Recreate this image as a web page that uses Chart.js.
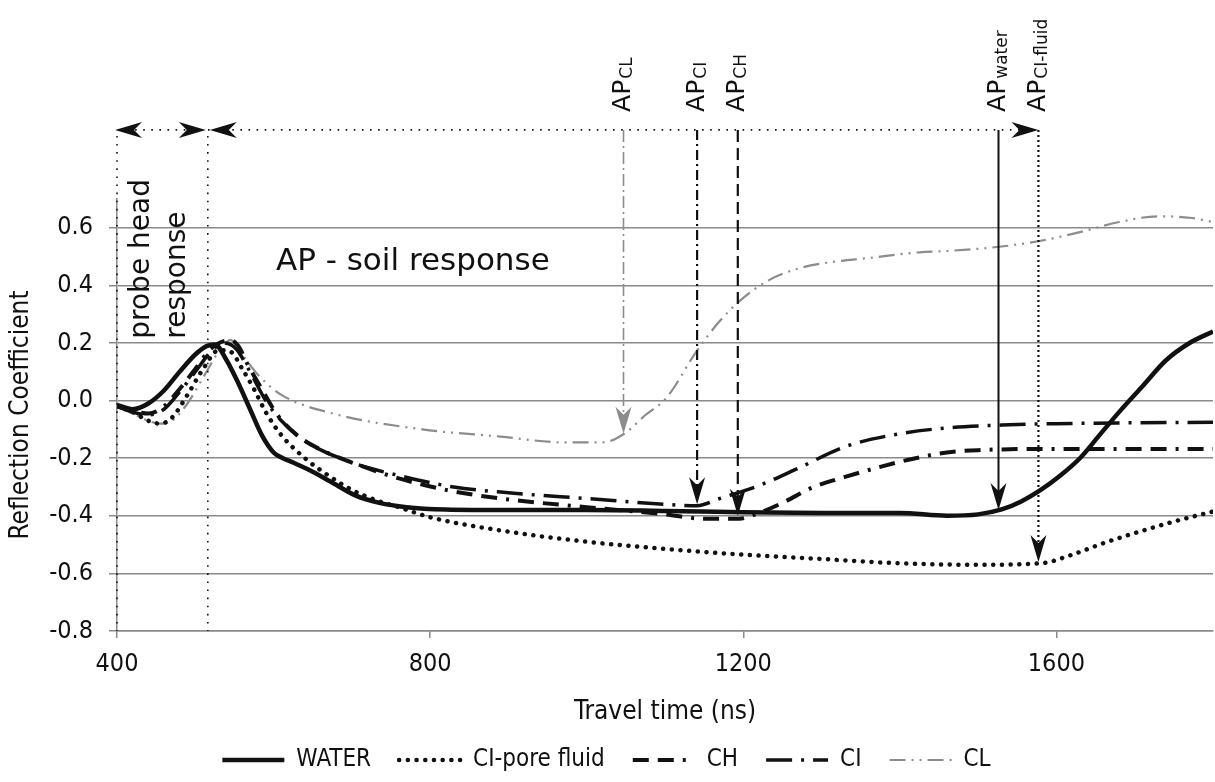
<!DOCTYPE html>
<html>
<head>
<meta charset="utf-8">
<script src="https://cdn.jsdelivr.net/npm/chart.js@4.4.0/dist/chart.umd.min.js"></script>
<style>
  html, body { margin: 0; padding: 0; background: #fff; }
  canvas { display: block; }
</style>
</head>
<body>
<canvas id="myChart" width="1215" height="782"></canvas>
<script>
// tick labels
const xTicks = [400, 800, 1200, 1600];
const yTicks = [-0.8, -0.6, -0.4, -0.2, 0, 0.2, 0.4, 0.6];

// WATER
const waterT = [400, 420, 440, 460, 480, 500, 515, 525, 540, 555, 570, 585, 600, 612, 625, 645, 672, 705, 735, 770, 820, 900, 1000, 1100, 1200, 1300, 1400, 1460, 1500, 1530, 1555, 1580, 1605, 1630, 1655, 1680, 1710, 1740, 1770, 1800];
const waterR = [-0.015, -0.03, -0.01, 0.035, 0.1, 0.16, 0.19, 0.195, 0.14, 0.06, -0.03, -0.12, -0.18, -0.2, -0.215, -0.24, -0.28, -0.33, -0.355, -0.37, -0.378, -0.38, -0.38, -0.383, -0.388, -0.39, -0.39, -0.4, -0.395, -0.378, -0.35, -0.31, -0.26, -0.2, -0.12, -0.04, 0.05, 0.14, 0.2, 0.24];

// CI-pore fluid
const fluidT = [400, 420, 440, 455, 470, 490, 510, 530, 545, 560, 575, 590, 610, 640, 670, 700, 730, 760, 800, 900, 1000, 1100, 1200, 1300, 1400, 1500, 1580, 1620, 1660, 1700, 1750, 1800];
const fluidR = [-0.02, -0.04, -0.07, -0.08, -0.06, 0.02, 0.11, 0.175, 0.17, 0.11, 0.04, -0.04, -0.12, -0.2, -0.26, -0.31, -0.345, -0.37, -0.405, -0.455, -0.49, -0.515, -0.535, -0.55, -0.565, -0.57, -0.565, -0.535, -0.495, -0.46, -0.42, -0.385];

// CH
const chT = [400, 420, 440, 460, 480, 500, 520, 544, 555, 566, 585, 605, 630, 660, 700, 760, 820, 890, 1000, 1100, 1150, 1195, 1220, 1250, 1290, 1330, 1375, 1420, 1460, 1500, 1600, 1700, 1800];
const chR = [-0.02, -0.035, -0.045, -0.02, 0.04, 0.11, 0.18, 0.21, 0.19, 0.13, 0.04, -0.05, -0.12, -0.17, -0.215, -0.27, -0.31, -0.34, -0.37, -0.395, -0.41, -0.41, -0.39, -0.355, -0.3, -0.265, -0.23, -0.2, -0.18, -0.172, -0.168, -0.168, -0.168];

// CI
const ciT = [400, 420, 440, 460, 480, 500, 520, 537, 552, 570, 590, 610, 640, 700, 760, 830, 900, 1000, 1100, 1141, 1170, 1220, 1270, 1330, 1400, 1460, 1530, 1600, 1700, 1800];
const ciR = [-0.02, -0.04, -0.05, -0.03, 0.03, 0.1, 0.17, 0.2, 0.18, 0.1, 0.0, -0.07, -0.14, -0.215, -0.26, -0.3, -0.32, -0.34, -0.36, -0.365, -0.34, -0.295, -0.235, -0.16, -0.115, -0.095, -0.085, -0.08, -0.077, -0.075];

// CL
const clT = [400, 420, 440, 455, 470, 490, 510, 530, 545, 560, 580, 610, 676, 790, 890, 970, 1020, 1048, 1075, 1102, 1140, 1168, 1197, 1234, 1272, 1310, 1360, 1425, 1463, 1530, 1580, 1630, 1680, 1730, 1770, 1800];
const clR = [-0.02, -0.045, -0.07, -0.08, -0.07, -0.01, 0.08, 0.17, 0.21, 0.16, 0.09, 0.02, -0.045, -0.1, -0.125, -0.145, -0.145, -0.115, -0.05, 0.01, 0.17, 0.27, 0.35, 0.42, 0.46, 0.48, 0.495, 0.515, 0.52, 0.535, 0.555, 0.585, 0.62, 0.64, 0.635, 0.62];

// arrival points and zones
const apNames = ['CL', 'CI', 'CH', 'water', 'CI-fluid'];
const apTimes = [1047, 1141, 1193, 1526, 1577];
const apTips = [-0.115, -0.36, -0.4, -0.38, -0.56];
const zoneEdges = [400, 516, 1577];
const markerLevel = 0.94;

const condensed = '"DejaVu Sans Condensed", "Liberation Sans Narrow", "DejaVu Sans", sans-serif';
const plain = '"DejaVu Sans", Verdana, sans-serif';

const pts = (t, r) => t.map((v, i) => ({ x: v, y: r[i] }));

function arrowHead(ctx, px, py, angle, color) {
  ctx.save();
  ctx.translate(px, py);
  ctx.rotate(angle);
  ctx.setLineDash([]);
  ctx.beginPath();
  ctx.moveTo(0, 0);
  ctx.lineTo(-27, -8);
  ctx.lineTo(-19, 0);
  ctx.lineTo(-27, 8);
  ctx.closePath();
  ctx.fillStyle = color;
  ctx.fill();
  ctx.restore();
}

// draws the arrows, marker lines and labels around the plot
const annotations = {
  id: 'annotations',
  afterDatasetsDraw(chart) {
    const { ctx, scales: { x, y } } = chart;
    const top = y.getPixelForValue(markerLevel);
    const bottom = y.getPixelForValue(-0.8);
    ctx.save();

    // dotted zone line along the top
    ctx.strokeStyle = '#111';
    ctx.lineWidth = 1.6;
    ctx.setLineDash([1.6, 6.5]);
    ctx.beginPath();
    ctx.moveTo(x.getPixelForValue(zoneEdges[0]) + 10, top);
    ctx.lineTo(x.getPixelForValue(zoneEdges[2]) - 10, top);
    ctx.stroke();

    // dotted zone edges
    [zoneEdges[0], zoneEdges[1]].forEach(t => {
      const px = x.getPixelForValue(t);
      ctx.beginPath();
      ctx.moveTo(px, top + 6);
      ctx.lineTo(px, bottom);
      ctx.stroke();
    });

    arrowHead(ctx, x.getPixelForValue(zoneEdges[0]) - 2, top, Math.PI, '#111');
    arrowHead(ctx, x.getPixelForValue(zoneEdges[1]) - 2, top, 0, '#111');
    arrowHead(ctx, x.getPixelForValue(zoneEdges[1]) + 2, top, Math.PI, '#111');
    arrowHead(ctx, x.getPixelForValue(zoneEdges[2]), top, 0, '#111');

    // arrival point markers
    const apStyles = [
      { color: '#8c8c8c', dash: [12, 4, 2, 4], width: 1.6 },
      { color: '#111', dash: [10, 4, 2, 4], width: 2.2 },
      { color: '#111', dash: [12, 6], width: 2.2 },
      { color: '#111', dash: [], width: 2 },
      { color: '#111', dash: [2, 3], width: 2.2 }
    ];
    apNames.forEach((name, i) => {
      const st = apStyles[i];
      const px = x.getPixelForValue(apTimes[i]);
      const tip = y.getPixelForValue(apTips[i]);
      ctx.strokeStyle = st.color;
      ctx.lineWidth = st.width;
      ctx.setLineDash(st.dash);
      ctx.beginPath();
      ctx.moveTo(px, top);
      ctx.lineTo(px, tip - 12);
      ctx.stroke();
      arrowHead(ctx, px, tip, Math.PI / 2, st.color);

      ctx.save();
      ctx.translate(px, top - 18);
      ctx.rotate(-Math.PI / 2);
      ctx.fillStyle = '#111';
      ctx.textBaseline = 'middle';
      ctx.textAlign = 'left';
      ctx.font = '25px ' + plain;
      ctx.fillText('AP', 0, 0);
      const w = ctx.measureText('AP').width;
      ctx.font = '17px ' + plain;
      ctx.fillText(name, w + 1, 4);
      ctx.restore();
    });

    // zone labels
    ctx.fillStyle = '#111';
    ctx.font = '31px ' + plain;
    ctx.textAlign = 'left';
    ctx.textBaseline = 'alphabetic';
    ctx.fillText('AP - soil response', x.getPixelForValue(603), y.getPixelForValue(0.455));
    ctx.font = '28px ' + plain;
    [['probe head', 431], ['response', 478]].forEach(([txt, t]) => {
      ctx.save();
      ctx.translate(x.getPixelForValue(t), y.getPixelForValue(0.215));
      ctx.rotate(-Math.PI / 2);
      ctx.textBaseline = 'middle';
      ctx.fillText(txt, 0, 0);
      ctx.restore();
    });
    ctx.restore();
  }
};

const data = {
  datasets: [
    { label: 'WATER', data: pts(waterT, waterR), borderColor: '#111', borderWidth: 4.5, borderDash: [] },
    { label: 'CI-pore fluid', data: pts(fluidT, fluidR), borderColor: '#111', borderWidth: 4.5, borderDash: [0.1, 8.6], borderCapStyle: 'round' },
    { label: 'CH', data: pts(chT, chR), borderColor: '#111', borderWidth: 4, borderDash: [16, 9, 16, 9, 3, 9] },
    { label: 'CI', data: pts(ciT, ciR), borderColor: '#111', borderWidth: 3.5, borderDash: [26, 9, 3, 9] },
    { label: 'CL', data: pts(clT, clR), borderColor: '#8c8c8c', borderWidth: 2.2, borderDash: [16, 6, 2, 6, 2, 6] }
  ]
};

const config = {
  type: 'line',
  data,
  options: {
    responsive: false,
    animation: false,
    layout: { padding: { top: 199, right: 2, left: 0, bottom: 0 } },
    elements: {
      point: { radius: 0 },
      line: { cubicInterpolationMode: 'monotone', fill: false }
    },
    scales: {
      x: {
        type: 'linear',
        min: 400,
        max: 1800,
        afterBuildTicks: s => { s.ticks = xTicks.map(v => ({ value: v })); },
        afterFit: s => { s.height = 89; },
        ticks: { color: '#111', padding: 11, maxRotation: 0, font: { family: condensed, size: 25 }, callback: v => String(v) },
        grid: { drawOnChartArea: false, drawTicks: true, tickLength: 7, color: '#8a8a8a', lineWidth: 1.5 },
        border: { color: '#8a8a8a', width: 1.5 },
        title: { display: true, text: 'Travel time (ns)', color: '#111', padding: { top: 0, bottom: -5 }, font: { family: condensed, size: 26, lineHeight: 1 } }
      },
      y: {
        min: -0.8,
        max: 0.7,
        afterBuildTicks: s => { s.ticks = yTicks.map(v => ({ value: v })); },
        afterFit: s => { s.width = 117; },
        ticks: { color: '#111', padding: 16, font: { family: condensed, size: 25 }, callback: v => v.toFixed(1) },
        grid: { color: '#8a8a8a', lineWidth: 1.5, tickLength: 8 },
        border: { color: '#8a8a8a', width: 1.5 },
        title: { display: true, text: 'Reflection Coefficient', color: '#111', padding: { top: 6, bottom: 0 }, font: { family: condensed, size: 26 } }
      }
    },
    plugins: {
      tooltip: { enabled: false },
      legend: {
        position: 'bottom',
        labels: {
          usePointStyle: true,
          pointStyleWidth: 62,
          padding: 28,
          color: '#111',
          font: { family: condensed, size: 24 },
          generateLabels: chart => chart.data.datasets.map((d, i) => ({
            text: d.label,
            strokeStyle: d.borderColor,
            fillStyle: d.borderColor,
            lineWidth: d.borderWidth,
            lineDash: d.borderDash,
            lineCap: d.borderCapStyle || 'butt',
            pointStyle: 'line',
            fontColor: '#111',
            datasetIndex: i
          }))
        }
      }
    }
  },
  plugins: [annotations]
};

const myChart = new Chart(document.getElementById('myChart'), config);
</script>
</body>
</html>
